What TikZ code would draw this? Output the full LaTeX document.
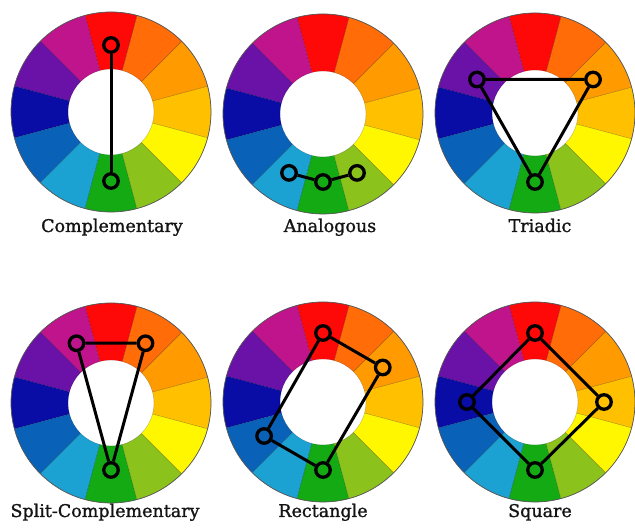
\documentclass[tikz,border=0pt]{standalone}
\usepackage{fontspec}
\setmainfont[FakeBold=1.2]{DejaVu Serif}
\definecolor{s0}{HTML}{FFC000}
\definecolor{s1}{HTML}{FF9A00}
\definecolor{s2}{HTML}{FF6C08}
\definecolor{s3}{HTML}{FF0808}
\definecolor{s4}{HTML}{C0148C}
\definecolor{s5}{HTML}{6A12A8}
\definecolor{s6}{HTML}{0A0CA6}
\definecolor{s7}{HTML}{0A62B8}
\definecolor{s8}{HTML}{1CA2D2}
\definecolor{s9}{HTML}{14AA14}
\definecolor{s10}{HTML}{8CC21C}
\definecolor{s11}{HTML}{FFF700}
\tikzset{
  cwheel/.pic={
    \foreach \k in {0,...,11}{
      \pgfmathsetmacro\aa{\k*30-15}
      \pgfmathsetmacro\bb{\k*30+15}
      \fill[s\k, draw=black, draw opacity=0.25, line width=0.4pt]
        (\aa:43pt) -- (\aa:100pt) arc[start angle=\aa, end angle=\bb, radius=100pt]
        -- (\bb:43pt) arc[start angle=\bb, end angle=\aa, radius=43pt] -- cycle;
    }
    \draw[black!65, line width=0.7pt] (0,0) circle[radius=100pt];
  },
  mk/.style={circle, draw=black, line width=3.3pt, minimum size=14.5pt, inner sep=0pt},
  link/.style={draw=black, line width=3pt},
  lbl/.style={font=\fontsize{17.5}{20}\selectfont, text=black!92, anchor=base, inner sep=0pt}
}
\begin{document}
\begin{tikzpicture}
\useasboundingbox (0,0) rectangle (635pt,529pt);
\fill[white] (0,0) rectangle (635pt,529pt);
% wheel centres
\coordinate (w1) at (111pt,417pt);
\coordinate (w2) at (323pt,415pt);
\coordinate (w3) at (535pt,416pt);
\coordinate (w4) at (111pt,126pt);
\coordinate (w5) at (323pt,127pt);
\coordinate (w6) at (535pt,127pt);
\foreach \w in {w1,w2,w3,w4,w5,w6}{ \pic at (\w) {cwheel}; }
% Complementary
\path (w1) ++(90:67pt) node[mk] (c1) {};
\path (w1) ++(-90:69pt) node[mk] (c2) {};
\draw[link] (c1) -- (c2);
% Analogous
\path (w2) ++(-120:68pt) node[mk] (a1) {};
\path (w2) ++(-90:68pt) node[mk] (a2) {};
\path (w2) ++(-60:68pt) node[mk] (a3) {};
\draw[link] (a1) -- (a2) -- (a3);
% Triadic
\path (w3) ++(150:67pt) node[mk] (t1) {};
\path (w3) ++(30:67pt) node[mk] (t2) {};
\path (w3) ++(-90:69pt) node[mk] (t3) {};
\draw[link] (t1) -- (t2) -- (t3) -- (t1);
% Split-Complementary
\path (w4) ++(120:69pt) node[mk] (p1) {};
\path (w4) ++(60:69pt) node[mk] (p2) {};
\path (w4) ++(-90:67pt) node[mk] (p3) {};
\draw[link] (p1) -- (p2) -- (p3) -- (p1);
% Rectangle
\path (w5) ++(90:69pt) node[mk] (r1) {};
\path (w5) ++(30:69pt) node[mk] (r2) {};
\path (w5) ++(-90:68pt) node[mk] (r3) {};
\path (w5) ++(-150:68pt) node[mk] (r4) {};
\draw[link] (r1) -- (r2) -- (r3) -- (r4) -- (r1);
% Square
\path (w6) ++(90:69pt) node[mk] (q1) {};
\path (w6) ++(0:69pt) node[mk] (q2) {};
\path (w6) ++(-90:68pt) node[mk] (q3) {};
\path (w6) ++(180:68pt) node[mk] (q4) {};
\draw[link] (q1) -- (q2) -- (q3) -- (q4) -- (q1);
% labels
\node[lbl] (l1) at (112pt,297pt) {Complementary};
\node[lbl] (l2) at (330pt,297pt) {Analogous};
\node[lbl] (l3) at (540pt,297pt) {Triadic};
\node[lbl] (l4) at (105pt,12pt) {Split-Complementary};
\node[lbl] (l5) at (323pt,12pt) {Rectangle};
\node[lbl] (l6) at (540pt,12pt) {Square};
\end{tikzpicture}
\end{document}
